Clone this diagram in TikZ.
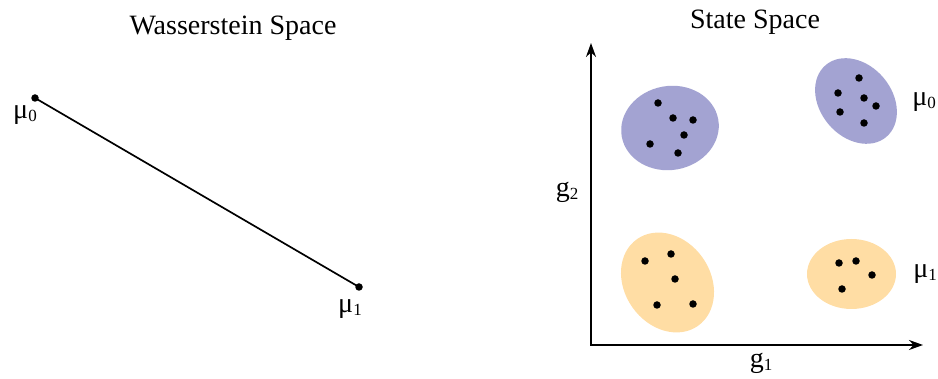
\documentclass[tikz,border=0pt]{standalone}
\usepackage{fontspec}
\setmainfont{Liberation Serif}
\usetikzlibrary{arrows.meta}
\definecolor{blueblob}{RGB}{163,163,210}
\definecolor{orangeblob}{RGB}{255,221,164}
\newcommand\sublab[2]{#1\raisebox{-0.1em}{\fontsize{17}{17}\selectfont #2}}
\begin{document}
\begin{tikzpicture}[x=1pt,y=1pt,
  title/.style={font=\fontsize{28}{30}\selectfont, inner sep=0pt, anchor=base},
  lab/.style={font=\fontsize{28}{30}\selectfont, inner sep=0pt, anchor=base},
  pt/.style={circle, fill=black, inner sep=0pt, minimum size=7.5pt},
  axis/.style={line width=1.8pt, -{Stealth[length=14pt,width=10pt]}}]
\useasboundingbox (0,0) rectangle (938,379);
% Wasserstein space
\node[title] (t1) at (233,344) {Wasserstein Space};
\node[pt] (m0) at (35,281) {};
\node[pt] (m1) at (359,92) {};
\draw[line width=1.7pt] (m0.center) -- (m1.center);
\node[lab] (l0) at (25,260) {\sublab{μ}{0}};
\node[lab] (l1) at (350,66) {\sublab{μ}{1}};
% State space
\node[title] (t2) at (755,350) {State Space};
\coordinate (o) at (591,34);
\coordinate (ytip) at (591,336);
\coordinate (xtip) at (923,34);
\draw[axis] (o) -- (ytip);
\draw[axis] ([xshift=-0.9pt]o) -- (xtip);
\node[lab] (g2) at (567,182) {\sublab{g}{2}};
\node[lab] (g1) at (761,11) {\sublab{g}{1}};
% blobs
\fill[blueblob, rotate around={10:(670,251)}] (670,251) ellipse [x radius=49, y radius=42];
\fill[blueblob, rotate around={-50:(856,278)}] (856,278) ellipse [x radius=47, y radius=36];
\fill[orangeblob, rotate around={-55:(667.5,96.5)}] (667.5,96.5) ellipse [x radius=53, y radius=43];
\fill[orangeblob] (851.5,105) ellipse [x radius=44.5, y radius=35];
% dots
\foreach \n/\x/\y in {a/658/103, b/673/118, c/693/120, d/684/135, e/650/144, f/678/153}
  \node[pt] (b1\n) at (\x,379-\y) {};
\foreach \n/\x/\y in {a/859/78, b/838/93, c/864/98, d/876/106, e/840/112, f/864/123}
  \node[pt] (b2\n) at (\x,379-\y) {};
\foreach \n/\x/\y in {a/645/261, b/671/254, c/675/279, d/657/305, e/693/304}
  \node[pt] (o1\n) at (\x,379-\y) {};
\foreach \n/\x/\y in {a/839/263, b/856/261, c/872/275, d/842/289}
  \node[pt] (o2\n) at (\x,379-\y) {};
\node[lab] (r0) at (924,273) {\sublab{μ}{0}};
\node[lab] (r1) at (925,101) {\sublab{μ}{1}};
\end{tikzpicture}
\end{document}
